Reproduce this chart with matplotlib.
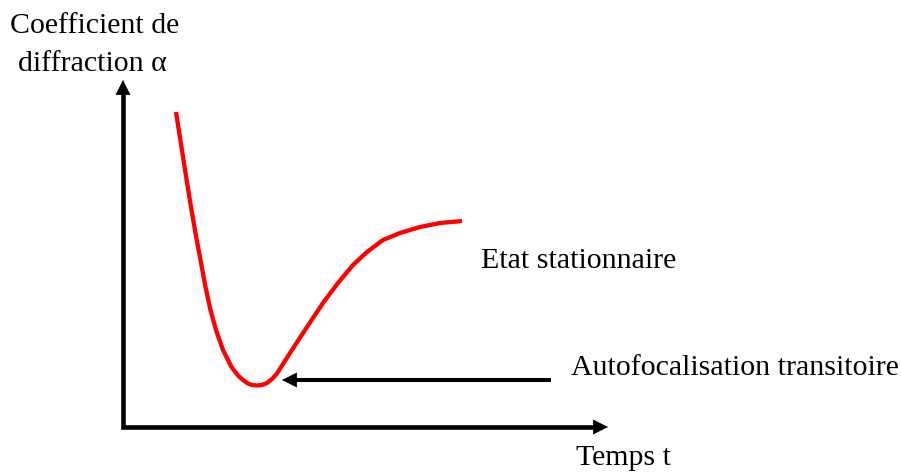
import numpy as np
import matplotlib.pyplot as plt

plt.rcParams['font.family'] = ['Liberation Serif', 'DejaVu Serif']

# curve (pixel-like units, y grows downward)
t_curve = [176, 181, 186, 191, 196, 200.5, 205.5, 210.5, 216, 223, 231.5, 238, 243, 248, 252, 257,
           262, 267, 272, 277, 290, 307, 323, 338, 353, 367, 383, 400, 420, 440, 462]
alpha_curve = [112, 144, 176, 207, 236, 260, 287, 310, 330, 350, 367, 375.5, 380, 383.5, 385, 385.5,
               385, 383, 379, 373.5, 353, 327, 303, 283, 265, 252, 240, 233, 227, 223, 221]

# axes corner and arrow ends
origin = (123, 427)
y_tip = (123, 80)
x_tip = (608, 427)
arrow_start = (551, 380)
arrow_tip = (282, 380)
head_len = 14

fig = plt.figure(figsize=(9.01, 4.72), dpi=100)
ax = fig.add_axes([0, 0, 1, 1])
ax.set_xlim(0, 901)
ax.set_ylim(472, 0)
ax.axis('off')

#Axes as an L with arrow heads
ax.plot([y_tip[0], origin[0], x_tip[0] - head_len + 2], [y_tip[1] + head_len - 2, origin[1], x_tip[1]],
        color='black', lw=3.3, solid_joinstyle='miter', solid_capstyle='butt')
head = dict(arrowstyle='-|>,head_length=0.5,head_width=0.25', color='black', lw=0.5,
            mutation_scale=20, shrinkA=0, shrinkB=0)
ax.annotate('', xy=y_tip, xytext=(y_tip[0], y_tip[1] + head_len), arrowprops=head)
ax.annotate('', xy=x_tip, xytext=(x_tip[0] - head_len, x_tip[1]), arrowprops=head)

#Red curve
ax.plot(t_curve, alpha_curve, color='red', lw=3.1, solid_joinstyle='round', solid_capstyle='butt')

#Pointer to the minimum
ax.plot([arrow_start[0], arrow_tip[0] + head_len - 2], [arrow_start[1], arrow_tip[1]],
        color='black', lw=2.9, solid_capstyle='butt')
ax.annotate('', xy=arrow_tip, xytext=(arrow_tip[0] + head_len, arrow_tip[1]), arrowprops=head)

fs = 21.5
ax.text(10, 33, 'Coefficient de', fontsize=fs, ha='left', va='baseline')
ax.text(18, 71, 'diffraction \u03b1', fontsize=fs, ha='left', va='baseline')
ax.text(481, 268, 'Etat stationnaire', fontsize=fs, ha='left', va='baseline')
ax.text(571, 375, 'Autofocalisation transitoire', fontsize=fs, ha='left', va='baseline')
ax.text(576, 465, 'Temps t', fontsize=fs, ha='left', va='baseline')

fig.savefig('out.png', dpi=100)
